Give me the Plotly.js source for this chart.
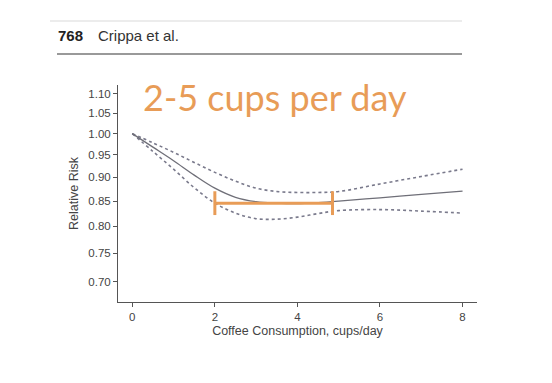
<!DOCTYPE html>
<html>
<head>
<meta charset="utf-8">
<script src="https://cdn.plot.ly/plotly-3.0.1.min.js"></script>
<style>html,body{margin:0;padding:0;background:#fff;}#chart{width:552px;height:383px;}</style>
</head>
<body>
<div id="chart"></div>
<script>
// Data
const cups = [0, 0.5, 1, 1.5, 2, 2.5, 3, 3.5, 4, 4.5, 5, 6, 7, 8];
const riskMain  = [1.0, 0.968, 0.937, 0.905, 0.877, 0.858, 0.849, 0.846, 0.845, 0.847, 0.850, 0.857, 0.864, 0.871];
const riskUpper = [1.0, 0.978, 0.956, 0.933, 0.911, 0.892, 0.877, 0.870, 0.868, 0.868, 0.870, 0.886, 0.902, 0.918];
const riskLower = [1.0, 0.958, 0.918, 0.878, 0.846, 0.826, 0.815, 0.814, 0.818, 0.825, 0.831, 0.833, 0.830, 0.826];
const rangeCups = [2, 4.85];
const rangeRisk = [0.846, 0.846];
const yTicks = [0.70, 0.75, 0.80, 0.85, 0.90, 0.95, 1.00, 1.05, 1.10];
const yTickText = yTicks.map(v => v.toFixed(2));
const xTicks = [0, 2, 4, 6, 8];

const orange = '#E89C57';
const grayLine = '#6f6f78';

const traces = [
  {x: cups, y: riskUpper, mode: 'lines', line: {color: '#7a7a8c', width: 1.6, dash: 'dot', shape: 'spline'}, hoverinfo: 'skip'},
  {x: cups, y: riskLower, mode: 'lines', line: {color: '#7a7a8c', width: 1.6, dash: 'dot', shape: 'spline'}, hoverinfo: 'skip'},
  {x: cups, y: riskMain, mode: 'lines', line: {color: grayLine, width: 1.3, shape: 'spline'}, hoverinfo: 'skip'},
  {x: rangeCups, y: rangeRisk, mode: 'lines+markers', line: {color: orange, width: 3},
   marker: {symbol: 'line-ns-open', size: 17, line: {color: orange, width: 3}}, hoverinfo: 'skip'}
];

const L = 118, R = 477, T = 85, B = 302;
const W = R - L, H = B - T;
const px = v => (v - L) / W;
const py = v => (B - v) / H;

const layout = {
  width: 552, height: 383,
  margin: {l: L, r: 552 - R, t: T, b: 383 - B},
  paper_bgcolor: '#fff', plot_bgcolor: '#fff',
  showlegend: false,
  font: {family: 'Liberation Sans, Arial, sans-serif', color: '#444'},
  xaxis: {
    range: [-0.346, 8.35], tickvals: xTicks, ticktext: xTicks.map(String),
    showline: true, linecolor: '#555', linewidth: 1, showgrid: false, zeroline: false,
    ticks: 'outside', ticklen: 4, tickcolor: '#555', tickfont: {size: 11.5, color: '#444'},
    title: {text: 'Coffee Consumption, cups/day', font: {size: 12.5, color: '#444'}, standoff: 4}
  },
  yaxis: {
    type: 'log', range: [Math.log10(0.667), Math.log10(1.124)],
    tickvals: yTicks, ticktext: yTickText,
    showline: true, linecolor: '#555', linewidth: 1, showgrid: false, zeroline: false,
    ticks: 'outside', ticklen: 4, tickcolor: '#555', tickfont: {size: 11.5, color: '#444'},
    title: {text: 'Relative Risk', font: {size: 12.5, color: '#444'}, standoff: 6}
  },
  shapes: [
    {type: 'line', xref: 'paper', yref: 'paper', x0: px(50), x1: px(462), y0: py(21), y1: py(21), line: {color: '#e6e6e6', width: 1.5}},
    {type: 'line', xref: 'paper', yref: 'paper', x0: px(57), x1: px(462), y0: py(54), y1: py(54), line: {color: '#777', width: 1.5}}
  ],
  annotations: [
    {xref: 'paper', yref: 'paper', x: px(56), y: py(35), xanchor: 'left', yanchor: 'middle', showarrow: false,
     text: '<b>768</b>', font: {size: 15, color: '#222', family: 'Liberation Sans, Arial, sans-serif'}},
    {xref: 'paper', yref: 'paper', x: px(96), y: py(35), xanchor: 'left', yanchor: 'middle', showarrow: false,
     text: 'Crippa et al.', font: {size: 15, color: '#333', family: 'Liberation Sans, Arial, sans-serif'}},
    {xref: 'paper', yref: 'paper', x: px(275), y: py(97), xanchor: 'center', yanchor: 'middle', showarrow: false,
     text: '2-5 cups per day', font: {size: 36, color: orange, family: 'Lato, Open Sans, sans-serif'}}
  ]
};

Plotly.newPlot('chart', traces, layout, {staticPlot: true, displayModeBar: false});
</script>
</body>
</html>
